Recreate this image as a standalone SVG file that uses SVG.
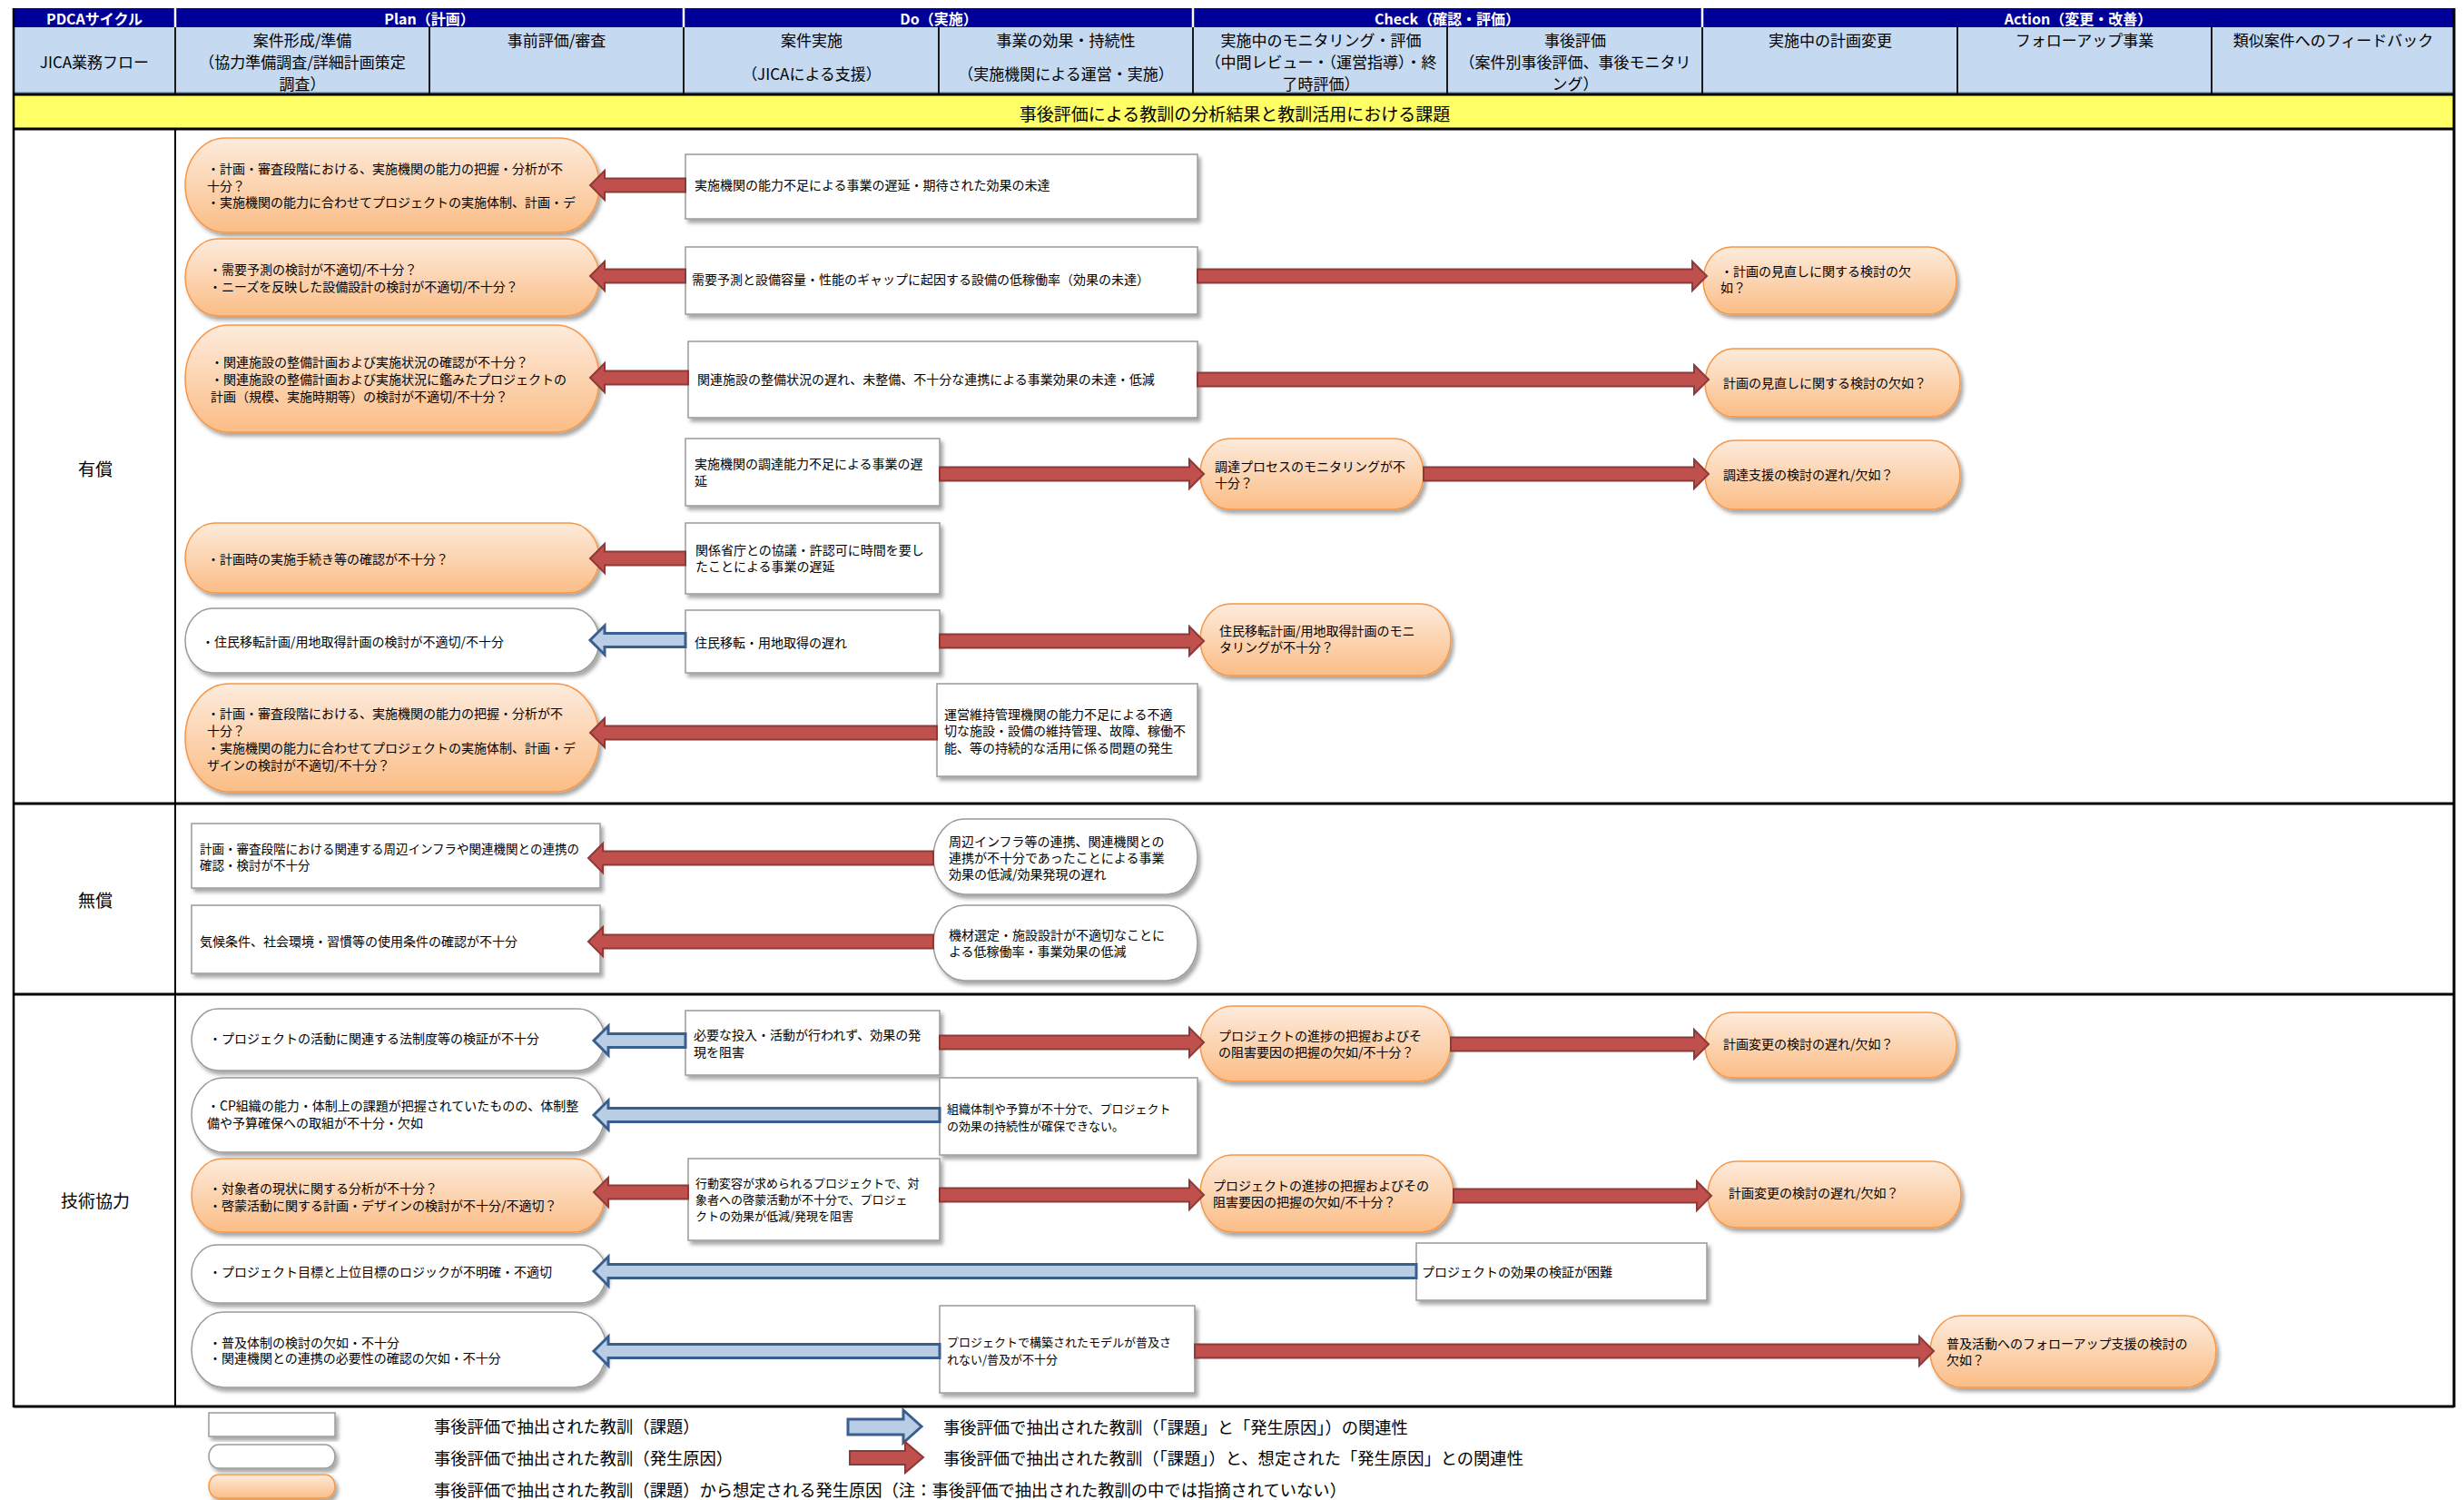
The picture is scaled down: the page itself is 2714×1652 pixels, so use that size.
<svg xmlns="http://www.w3.org/2000/svg" width="2714" height="1652" viewBox="0 0 2714 1652">
<defs>
<linearGradient id="og" x1="0" y1="0" x2="0" y2="1">
<stop offset="0" stop-color="#FDEBDC"/>
<stop offset="1" stop-color="#FBBD86"/>
</linearGradient>
<filter id="sh" x="-5%" y="-10%" width="115%" height="130%">
<feDropShadow dx="3" dy="4" stdDeviation="2" flood-color="#000" flood-opacity="0.35"/>
</filter>
</defs>
<style>
text { font-family: "Noto Sans CJK JP", "Noto Sans", sans-serif; fill: #000; dominant-baseline: central; }
.hd1 { font-size: 16px; font-weight: bold; fill: #fff; text-anchor: middle; }
.hd2 { font-size: 17px; text-anchor: middle; }
.band { font-size: 19px; text-anchor: middle; }
.sec { font-size: 19px; text-anchor: middle; }
.t { font-size: 14px; }
.ts { font-size: 13px; }
.tm { font-size: 13.5px; }
.lg { font-size: 18.3px; }
.box { fill: #fff; stroke: #9A9A9A; stroke-width: 1.5; filter: url(#sh); }
.rnd { fill: #fff; stroke: #9A9A9A; stroke-width: 1.5; filter: url(#sh); }
.org { fill: url(#og); stroke: #F79646; stroke-width: 1.5; filter: url(#sh); }
.red { fill: #C0504D; stroke: #8C3A37; stroke-width: 2; stroke-linejoin: miter; }
.blue { fill: #B9CDE5; stroke: #3A5F8F; stroke-width: 3; stroke-linejoin: miter; }
.thick { stroke: #000; stroke-width: 3; }
</style>
<rect x="0" y="0" width="2714" height="1652" fill="#fff"/>

<!-- header -->
<g id="header">
<rect x="15" y="9" width="2688" height="21" fill="#000099"/>
<g stroke="#fff" stroke-width="2.5">
<line x1="193" y1="9" x2="193" y2="30"/>
<line x1="753" y1="9" x2="753" y2="30"/>
<line x1="1314" y1="9" x2="1314" y2="30"/>
<line x1="1875" y1="9" x2="1875" y2="30"/>
</g>
<text class="hd1" x="104" y="20">PDCAサイクル</text>
<text class="hd1" x="473" y="20">Plan（計画）</text>
<text class="hd1" x="1034" y="20">Do（実施）</text>
<text class="hd1" x="1594" y="20">Check（確認・評価）</text>
<text class="hd1" x="2289" y="20">Action（変更・改善）</text>
<rect x="15" y="30" width="2688" height="73" fill="#C5D9F1"/>
<line x1="15" y1="102" x2="2703" y2="102" stroke="#8DA6C6" stroke-width="2"/>
<g stroke="#1a1a1a" stroke-width="2">
<line x1="193" y1="30" x2="193" y2="103"/>
<line x1="473" y1="30" x2="473" y2="103"/>
<line x1="753" y1="30" x2="753" y2="103"/>
<line x1="1034" y1="30" x2="1034" y2="103"/>
<line x1="1314" y1="30" x2="1314" y2="103"/>
<line x1="1594" y1="30" x2="1594" y2="103"/>
<line x1="1875" y1="30" x2="1875" y2="103"/>
<line x1="2156" y1="30" x2="2156" y2="103"/>
<line x1="2436" y1="30" x2="2436" y2="103"/>
</g>
<text class="hd2" x="104" y="67">JICA業務フロー</text>
<text class="hd2"><tspan x="333" y="43">案件形成/準備</tspan><tspan x="333" y="67">（協力準備調査/詳細計画策定</tspan><tspan x="333" y="91">調査）</tspan></text>
<text class="hd2" x="613" y="43">事前評価/審査</text>
<text class="hd2"><tspan x="894" y="43">案件実施</tspan><tspan x="894" y="80">（JICAによる支援）</tspan></text>
<text class="hd2"><tspan x="1174" y="43">事業の効果・持続性</tspan><tspan x="1174" y="80">（実施機関による運営・実施）</tspan></text>
<text class="hd2"><tspan x="1455" y="43">実施中のモニタリング・評価</tspan><tspan x="1455" y="67">（中間レビュー・（運営指導）・終</tspan><tspan x="1455" y="91">了時評価）</tspan></text>
<text class="hd2"><tspan x="1735" y="43">事後評価</tspan><tspan x="1735" y="67">（案件別事後評価、事後モニタリ</tspan><tspan x="1735" y="91">ング）</tspan></text>
<text class="hd2" x="2016" y="43">実施中の計画変更</text>
<text class="hd2" x="2296" y="43">フォローアップ事業</text>
<text class="hd2" x="2570" y="43">類似案件へのフィードバック</text>
<rect x="15" y="104" width="2688" height="38" fill="#FFFF66"/>
<text class="band" x="1360" y="124">事後評価による教訓の分析結果と教訓活用における課題</text>
</g>

<!-- frame and sections -->
<g id="frame" fill="none">
<line class="thick" x1="15" y1="104" x2="2703" y2="104"/>
<line class="thick" x1="15" y1="142" x2="2703" y2="142"/>
<line class="thick" x1="15" y1="885" x2="2703" y2="885"/>
<line class="thick" x1="15" y1="1095" x2="2703" y2="1095"/>
<line class="thick" x1="15" y1="1549" x2="2703" y2="1549"/>
<line x1="15" y1="9" x2="15" y2="1550" stroke="#000" stroke-width="2.5"/>
<line x1="2703" y1="9" x2="2703" y2="1550" stroke="#000" stroke-width="3"/>
<line x1="193" y1="142" x2="193" y2="1549" stroke="#000" stroke-width="2"/>
<text class="sec" x="105" y="515">有償</text>
<text class="sec" x="105" y="990">無償</text>
<text class="sec" x="105" y="1321">技術協力</text>
</g>

<!-- 有償 nodes -->
<g id="O1"><rect class="org" x="204" y="152" width="456" height="104" rx="44" ry="52"/>
<text class="t"><tspan x="228" y="185">・計画・審査段階における、実施機関の能力の把握・分析が不</tspan><tspan x="228" y="204">十分？</tspan><tspan x="228" y="222">・実施機関の能力に合わせてプロジェクトの実施体制、計画・デ</tspan></text></g>
<g id="W1"><rect class="box" x="755" y="170" width="564" height="71"/>
<text class="t" x="765" y="203">実施機関の能力不足による事業の遅延・期待された効果の未達</text></g>
<g id="O2"><rect class="org" x="204" y="263" width="456" height="85" rx="36" ry="42.5"/>
<text class="t"><tspan x="230" y="296">・需要予測の検討が不適切/不十分？</tspan><tspan x="230" y="315">・ニーズを反映した設備設計の検討が不適切/不十分？</tspan></text></g>
<g id="W2"><rect class="box" x="755" y="272" width="564" height="74"/>
<text class="t" x="762" y="307">需要予測と設備容量・性能のギャップに起因する設備の低稼働率（効果の未達）</text></g>
<g id="O2r"><rect class="org" x="1876" y="272" width="279" height="74" rx="31" ry="37"/>
<text class="t"><tspan x="1895" y="298">・計画の見直しに関する検討の欠</tspan><tspan x="1895" y="316">如？</tspan></text></g>
<g id="O3"><rect class="org" x="204" y="358" width="456" height="118" rx="48" ry="59"/>
<text class="t"><tspan x="232" y="398">・関連施設の整備計画および実施状況の確認が不十分？</tspan><tspan x="232" y="417">・関連施設の整備計画および実施状況に鑑みたプロジェクトの</tspan><tspan x="232" y="436">計画（規模、実施時期等）の検討が不適切/不十分？</tspan></text></g>
<g id="W3"><rect class="box" x="758" y="376" width="561" height="84"/>
<text class="t" x="768" y="417">関連施設の整備状況の遅れ、未整備、不十分な連携による事業効果の未達・低減</text></g>
<g id="O3r"><rect class="org" x="1878" y="384" width="281" height="75" rx="31" ry="37.5"/>
<text class="t" x="1898" y="421">計画の見直しに関する検討の欠如？</text></g>
<g id="W4"><rect class="box" x="755" y="483" width="280" height="74"/>
<text class="t"><tspan x="765" y="510">実施機関の調達能力不足による事業の遅</tspan><tspan x="765" y="529">延</tspan></text></g>
<g id="O4"><rect class="org" x="1322" y="483" width="246" height="78" rx="32" ry="39"/>
<text class="t"><tspan x="1338" y="513">調達プロセスのモニタリングが不</tspan><tspan x="1338" y="531">十分？</tspan></text></g>
<g id="O4r"><rect class="org" x="1878" y="485" width="281" height="76" rx="32" ry="38"/>
<text class="t" x="1898" y="522">調達支援の検討の遅れ/欠如？</text></g>
<g id="O5"><rect class="org" x="204" y="576" width="456" height="77" rx="33" ry="38.5"/>
<text class="t" x="228" y="615">・計画時の実施手続き等の確認が不十分？</text></g>
<g id="W5"><rect class="box" x="755" y="576" width="280" height="78"/>
<text class="t"><tspan x="766" y="605">関係省庁との協議・許認可に時間を要し</tspan><tspan x="766" y="623">たことによる事業の遅延</tspan></text></g>
<g id="N6"><rect class="rnd" x="204" y="670" width="456" height="71" rx="30" ry="35.5"/>
<text class="t" x="222" y="706">・住民移転計画/用地取得計画の検討が不適切/不十分</text></g>
<g id="W6"><rect class="box" x="755" y="672" width="280" height="69"/>
<text class="t" x="765" y="707">住民移転・用地取得の遅れ</text></g>
<g id="O6r"><rect class="org" x="1322" y="665" width="276" height="79" rx="33" ry="39.5"/>
<text class="t"><tspan x="1343" y="694">住民移転計画/用地取得計画のモニ</tspan><tspan x="1343" y="712">タリングが不十分？</tspan></text></g>
<g id="O7"><rect class="org" x="204" y="753" width="456" height="119" rx="48" ry="59.5"/>
<text class="t"><tspan x="228" y="785">・計画・審査段階における、実施機関の能力の把握・分析が不</tspan><tspan x="228" y="804">十分？</tspan><tspan x="228" y="823">・実施機関の能力に合わせてプロジェクトの実施体制、計画・デ</tspan><tspan x="228" y="842">ザインの検討が不適切/不十分？</tspan></text></g>
<g id="W7"><rect class="box" x="1032" y="753" width="287" height="102"/>
<text class="t"><tspan x="1040" y="786">運営維持管理機関の能力不足による不適</tspan><tspan x="1040" y="804">切な施設・設備の維持管理、故障、稼働不</tspan><tspan x="1040" y="823">能、等の持続的な活用に係る問題の発生</tspan></text></g>

<!-- 無償 nodes -->
<g id="M1"><rect class="box" x="211" y="907" width="450" height="71"/>
<text class="tm"><tspan x="220" y="934">計画・審査段階における関連する周辺インフラや関連機関との連携の</tspan><tspan x="220" y="952">確認・検討が不十分</tspan></text></g>
<g id="M1r"><rect class="rnd" x="1028" y="902" width="291" height="83" rx="34" ry="41.5"/>
<text class="t"><tspan x="1045" y="926">周辺インフラ等の連携、関連機関との</tspan><tspan x="1045" y="944">連携が不十分であったことによる事業</tspan><tspan x="1045" y="962">効果の低減/効果発現の遅れ</tspan></text></g>
<g id="M2"><rect class="box" x="211" y="997" width="450" height="75"/>
<text class="t" x="220" y="1036">気候条件、社会環境・習慣等の使用条件の確認が不十分</text></g>
<g id="M2r"><rect class="rnd" x="1028" y="997" width="291" height="83" rx="34" ry="41.5"/>
<text class="t"><tspan x="1045" y="1029">機材選定・施設設計が不適切なことに</tspan><tspan x="1045" y="1047">よる低稼働率・事業効果の低減</tspan></text></g>

<!-- 技術協力 nodes -->
<g id="T1"><rect class="rnd" x="211" y="1111" width="455" height="68" rx="29" ry="34"/>
<text class="t" x="230" y="1143">・プロジェクトの活動に関連する法制度等の検証が不十分</text></g>
<g id="T1w"><rect class="box" x="755" y="1113" width="280" height="71"/>
<text class="t"><tspan x="764" y="1139">必要な投入・活動が行われず、効果の発</tspan><tspan x="764" y="1158">現を阻害</tspan></text></g>
<g id="T1o"><rect class="org" x="1322" y="1108" width="276" height="83" rx="35" ry="41.5"/>
<text class="t"><tspan x="1342" y="1140">プロジェクトの進捗の把握およびそ</tspan><tspan x="1342" y="1158">の阻害要因の把握の欠如/不十分？</tspan></text></g>
<g id="T1r"><rect class="org" x="1878" y="1115" width="277" height="72" rx="30" ry="36"/>
<text class="t" x="1898" y="1149">計画変更の検討の遅れ/欠如？</text></g>
<g id="T2"><rect class="rnd" x="211" y="1187" width="455" height="82" rx="35" ry="41"/>
<text class="t"><tspan x="228" y="1217">・CP組織の能力・体制上の課題が把握されていたものの、体制整</tspan><tspan x="228" y="1236">備や予算確保への取組が不十分・欠如</tspan></text></g>
<g id="T2w"><rect class="box" x="1035" y="1187" width="284" height="85"/>
<text class="ts"><tspan x="1043" y="1220">組織体制や予算が不十分で、プロジェクト</tspan><tspan x="1043" y="1239">の効果の持続性が確保できない。</tspan></text></g>
<g id="T3"><rect class="org" x="211" y="1276" width="455" height="81" rx="34" ry="40.5"/>
<text class="t"><tspan x="230" y="1308">・対象者の現状に関する分析が不十分？</tspan><tspan x="230" y="1327">・啓蒙活動に関する計画・デザインの検討が不十分/不適切？</tspan></text></g>
<g id="T3w"><rect class="box" x="758" y="1276" width="277" height="90"/>
<text class="ts"><tspan x="766" y="1302">行動変容が求められるプロジェクトで、対</tspan><tspan x="766" y="1320">象者への啓蒙活動が不十分で、プロジェ</tspan><tspan x="766" y="1338">クトの効果が低減/発現を阻害</tspan></text></g>
<g id="T3o"><rect class="org" x="1322" y="1272" width="279" height="85" rx="35" ry="42.5"/>
<text class="t"><tspan x="1336" y="1305">プロジェクトの進捗の把握およびその</tspan><tspan x="1336" y="1323">阻害要因の把握の欠如/不十分？</tspan></text></g>
<g id="T3r"><rect class="org" x="1881" y="1279" width="279" height="73" rx="31" ry="36.5"/>
<text class="t" x="1904" y="1313">計画変更の検討の遅れ/欠如？</text></g>
<g id="T4"><rect class="rnd" x="211" y="1371" width="457" height="64" rx="28" ry="32"/>
<text class="t" x="230" y="1400">・プロジェクト目標と上位目標のロジックが不明確・不適切</text></g>
<g id="T4w"><rect class="box" x="1560" y="1369" width="320" height="63"/>
<text class="t" x="1566" y="1400">プロジェクトの効果の検証が困難</text></g>
<g id="T5"><rect class="rnd" x="211" y="1445" width="457" height="83" rx="35" ry="41.5"/>
<text class="t"><tspan x="230" y="1478">・普及体制の検討の欠如・不十分</tspan><tspan x="230" y="1495">・関連機関との連携の必要性の確認の欠如・不十分</tspan></text></g>
<g id="T5w"><rect class="box" x="1035" y="1438" width="281" height="96"/>
<text class="ts"><tspan x="1043" y="1477">プロジェクトで構築されたモデルが普及さ</tspan><tspan x="1043" y="1496">れない/普及が不十分</tspan></text></g>
<g id="T5r"><rect class="org" x="2126" y="1449" width="315" height="79" rx="34" ry="39.5"/>
<text class="t"><tspan x="2144" y="1479">普及活動へのフォローアップ支援の検討の</tspan><tspan x="2144" y="1497">欠如？</tspan></text></g>

<!-- connectors -->
<g id="connectors">
<polygon class="red" points="755,196.5 666,196.5 666,188 650,204 666,220 666,211.5 755,211.5"/>
<polygon class="red" points="755,296.5 666,296.5 666,288 650,304 666,320 666,311.5 755,311.5"/>
<polygon class="red" points="1319,296.5 1864,296.5 1864,288 1880,304 1864,320 1864,311.5 1319,311.5"/>
<polygon class="red" points="758,408.5 666,408.5 666,400 650,416 666,432 666,423.5 758,423.5"/>
<polygon class="red" points="1319,410.5 1866,410.5 1866,402 1882,418 1866,434 1866,425.5 1319,425.5"/>
<polygon class="red" points="1035,514.5 1310,514.5 1310,506 1326,522 1310,538 1310,529.5 1035,529.5"/>
<polygon class="red" points="1568,514.5 1866,514.5 1866,506 1882,522 1866,538 1866,529.5 1568,529.5"/>
<polygon class="red" points="755,607.5 666,607.5 666,599 650,615 666,631 666,622.5 755,622.5"/>
<polygon class="blue" points="755,697.5 666,697.5 666,689 650,705 666,721 666,712.5 755,712.5"/>
<polygon class="red" points="1035,698.5 1310,698.5 1310,690 1326,706 1310,722 1310,713.5 1035,713.5"/>
<polygon class="red" points="1032,799.5 666,799.5 666,791 650,807 666,823 666,814.5 1032,814.5"/>
<polygon class="red" points="1028,937.5 664,937.5 664,929 648,945 664,961 664,952.5 1028,952.5"/>
<polygon class="red" points="1028,1029.5 664,1029.5 664,1021 648,1037 664,1053 664,1044.5 1028,1044.5"/>
<polygon class="blue" points="755,1138.5 670,1138.5 670,1130 654,1146 670,1162 670,1153.5 755,1153.5"/>
<polygon class="red" points="1035,1140.5 1310,1140.5 1310,1132 1326,1148 1310,1164 1310,1155.5 1035,1155.5"/>
<polygon class="red" points="1598,1142.5 1866,1142.5 1866,1134 1882,1150 1866,1166 1866,1157.5 1598,1157.5"/>
<polygon class="blue" points="1035,1220.5 670,1220.5 670,1212 654,1228 670,1244 670,1235.5 1035,1235.5"/>
<polygon class="red" points="758,1305.5 670,1305.5 670,1297 654,1313 670,1329 670,1320.5 758,1320.5"/>
<polygon class="red" points="1035,1308.5 1310,1308.5 1310,1300 1326,1316 1310,1332 1310,1323.5 1035,1323.5"/>
<polygon class="red" points="1601,1309.5 1869,1309.5 1869,1301 1885,1317 1869,1333 1869,1324.5 1601,1324.5"/>
<polygon class="blue" points="1560,1392.5 670,1392.5 670,1384 654,1400 670,1416 670,1407.5 1560,1407.5"/>
<polygon class="blue" points="1035,1480.5 670,1480.5 670,1472 654,1488 670,1504 670,1495.5 1035,1495.5"/>
<polygon class="red" points="1316,1480.5 2114,1480.5 2114,1472 2130,1488 2114,1504 2114,1495.5 1316,1495.5"/>
</g>

<!-- legend -->
<g id="legend">
<rect class="box" x="230" y="1556" width="139" height="26"/>
<text class="lg" x="478" y="1570">事後評価で抽出された教訓（課題）</text>
<rect class="rnd" x="230" y="1591" width="139" height="26" rx="11" ry="13"/>
<text class="lg" x="478" y="1605">事後評価で抽出された教訓（発生原因）</text>
<rect class="org" x="230" y="1624" width="139" height="26" rx="11" ry="13"/>
<text class="lg" x="478" y="1640">事後評価で抽出された教訓（課題）から想定される発生原因（注：事後評価で抽出された教訓の中では指摘されていない）</text>
<polygon class="blue" points="934,1563 995,1563 995,1553 1015,1571 995,1589 995,1580 934,1580"/>
<text class="lg" x="1039" y="1571">事後評価で抽出された教訓（「課題」と「発生原因」）の関連性</text>
<polygon class="red" points="936,1598 997,1598 997,1588 1017,1605 997,1622 997,1613 936,1613"/>
<text class="lg" x="1039" y="1605">事後評価で抽出された教訓（「課題」）と、想定された「発生原因」との関連性</text>
</g>
</svg>
